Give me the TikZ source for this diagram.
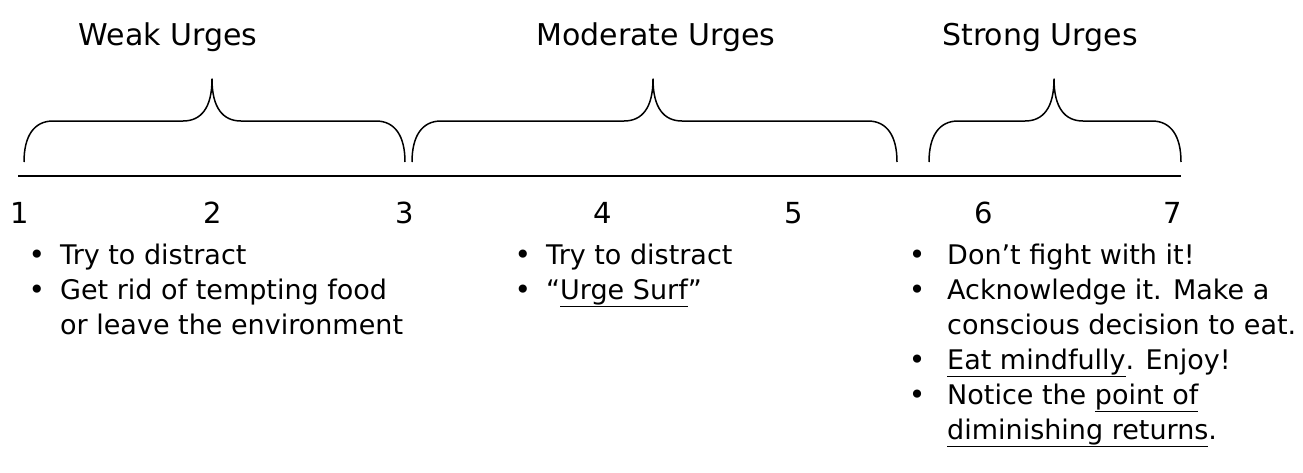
\documentclass[tikz,border=0pt]{standalone}
\usepackage{fontspec}
\setmainfont{DejaVu Sans}
\newcommand{\urgebrace}[3]{%
  \draw[bracestyle] (#1,162) .. controls (#1,136) and (#1+10,121) .. (#1+29,121)
    -- (#2-29,121) .. controls (#2-11,121) and (#2,108) .. (#2,79)
    .. controls (#2,108) and (#2+11,121) .. (#2+29,121)
    -- (#3-29,121) .. controls (#3-10,121) and (#3,136) .. (#3,162);}
\tikzset{
  bracestyle/.style={line width=1.5pt, line join=round},
  axisline/.style={line width=2pt},
  txt/.style={anchor=base west, inner sep=0pt, font=\fontsize{27}{32}\selectfont},
  title/.style={anchor=base, inner sep=0pt, font=\fontsize{30}{34}\selectfont},
  num/.style={anchor=base, inner sep=0pt, font=\fontsize{29}{34}\selectfont},
  bul/.style={anchor=base, inner sep=0pt, font=\fontsize{28}{32}\selectfont},
}
\begin{document}
\begin{tikzpicture}[x=1pt,y=-1pt]
\useasboundingbox (0,0) rectangle (1303,472);
% titles
\node[title] (tw) at (168,45) {Weak Urges};
\node[title] (tm) at (656,45) {Moderate Urges};
\node[title] (ts) at (1040,45) {Strong Urges};
% braces
\urgebrace{24}{212}{405}
\urgebrace{412}{653}{897}
\urgebrace{929}{1054}{1181}
% axis
\coordinate (al) at (18,176);
\coordinate (ar) at (1181,176);
\draw[axisline] (al) -- (ar);
% numbers
\node[num] (n1) at (20,223) {1};
\node[num] (n2) at (213,223) {2};
\node[num] (n3) at (405,223) {3};
\node[num] (n4) at (603,223) {4};
\node[num] (n5) at (794,223) {5};
\node[num] (n6) at (984,223) {6};
\node[num] (n7) at (1173,223) {7};
% column 1
\node[bul] (b11) at (37,264) {•};
\node[txt] (t11) at (60,264) {Try to distract};
\node[bul] (b12) at (37,299) {•};
\node[txt] (t12) at (60,299) {Get rid of tempting food};
\node[txt] (t13) at (60,334) {or leave the environment};
% column 2
\node[bul] (b21) at (523,264) {•};
\node[txt] (t21) at (546,264) {Try to distract};
\node[bul] (b22) at (523,299) {•};
\node[txt] (t22) at (546,299) {“\underline{Urge Surf}”};
% column 3
\node[bul] (b31) at (917,264) {•};
\node[txt] (t31) at (947,264) {Don’t fight with it!};
\node[bul] (b32) at (917,299) {•};
\node[txt] (t32) at (947,299) {Acknowledge it. Make a};
\node[txt] (t33) at (947,334) {conscious decision to eat.};
\node[bul] (b34) at (917,369) {•};
\node[txt] (t34) at (947,369) {\underline{Eat mindfully}. Enjoy!};
\node[bul] (b35) at (917,404) {•};
\node[txt] (t35) at (947,404) {Notice the \underline{point of}};
\node[txt] (t36) at (947,439) {\underline{diminishing returns}.};
\end{tikzpicture}
\end{document}
